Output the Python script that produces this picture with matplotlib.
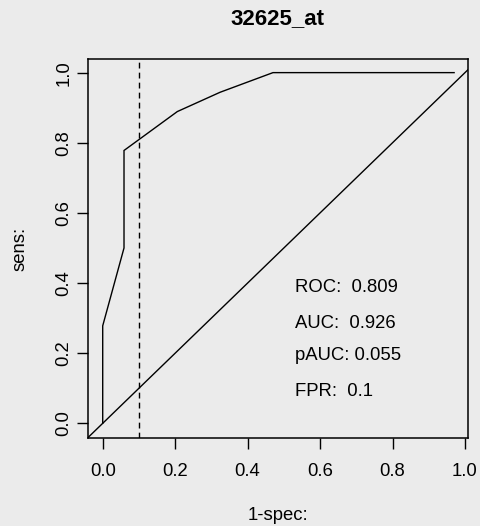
import matplotlib
matplotlib.use("Agg")
import matplotlib.pyplot as plt
import numpy as np

plt.rcParams['font.family'] = ['Liberation Sans', 'DejaVu Sans']

title = "32625_at"
xlabel = "1-spec:"
ylabel = "sens:"
# ROC curve points (1-specificity, sensitivity)
fpr_vals = [0.0, 0.0, 0.0588, 0.0588, 0.206, 0.324, 0.47, 0.97]
sens_vals = [0.0, 0.278, 0.5, 0.778, 0.889, 0.944, 1.0, 1.0]
fpr_cut = 0.1
stat_labels = ["ROC:  0.809", "AUC:  0.926", "pAUC: 0.055", "FPR:  0.1"]
ticks = [0.0, 0.2, 0.4, 0.6, 0.8, 1.0]
tick_labels = ["0.0", "0.2", "0.4", "0.6", "0.8", "1.0"]

bg = "#ebebeb"
fig = plt.figure(figsize=(4.8, 5.26), dpi=100, facecolor=bg)
ax = fig.add_axes([88/480, 1-437.7/526, (467.7-88)/480, (437.7-59.3)/526])
ax.set_facecolor(bg)

ax.set_xlim(-0.0406, 1.0075)
ax.set_ylim(-0.041, 1.038)

lw = 1.0
ax.plot(fpr_vals, sens_vals, color="black", lw=lw, solid_joinstyle='miter')
ax.axline((0, 0), slope=1, color="black", lw=lw)
ax.axvline(fpr_cut, color="black", lw=lw, linestyle=(0, (4.2, 3.0)))

ytxt = [0.375, 0.273, 0.180, 0.077]
for s, y in zip(stat_labels, ytxt):
    ax.text(0.531, y, s, ha='left', va='baseline', fontsize=13.3)

for sp in ax.spines.values():
    sp.set_linewidth(1.1)
    sp.set_color("black")

ax.set_xticks(ticks)
ax.set_xticklabels(tick_labels, fontsize=13.3)
ax.set_yticks(ticks)
ax.set_yticklabels(tick_labels, fontsize=13.3, rotation=90, va='center')
ax.tick_params(axis='both', length=8, width=1.0, color='black')
ax.tick_params(axis='x', pad=10.5)
ax.tick_params(axis='y', pad=3)

ax.set_xlabel(xlabel, fontsize=13.3, va='center')
ax.xaxis.set_label_coords(0.5, (437.7-515)/378.4)
ax.set_ylabel(ylabel, fontsize=13.3, va='center')
ax.yaxis.set_label_coords((20-88)/379.7, 0.5)

ax.set_title(title, fontsize=16, fontweight='bold', y=(437.7-19)/378.4, va='center', pad=0)

fig.savefig("out.png", dpi=100, facecolor=bg)
